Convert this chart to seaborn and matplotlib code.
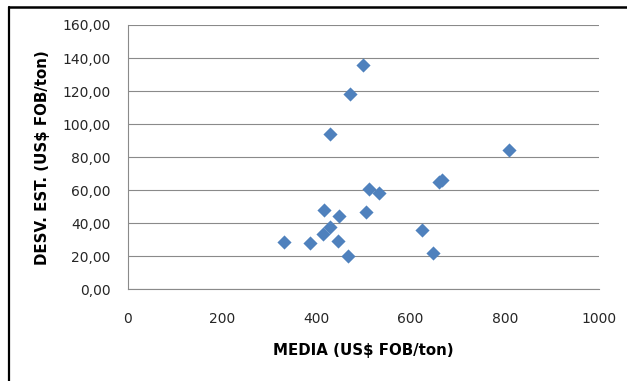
import matplotlib
matplotlib.use("Agg")
import matplotlib.pyplot as plt
from matplotlib.lines import Line2D
import seaborn as sns
import pandas as pd

media = [498, 471, 429, 809, 666, 660, 512, 533, 416, 448, 505, 429, 414, 386, 445, 467, 625, 647, 331]
desv = [135.6, 118.4, 94.0, 84.5, 66.2, 65.0, 60.7, 58.5, 48.2, 44.4, 46.6, 37.7, 33.3, 28.2, 29.2, 20.4, 35.7, 21.8, 28.6]

x_ticks = [0, 200, 400, 600, 800, 1000]
x_tick_labels = ["0", "200", "400", "600", "800", "1000"]
y_ticks = [0, 20, 40, 60, 80, 100, 120, 140, 160]
y_tick_labels = ["0,00", "20,00", "40,00", "60,00", "80,00", "100,00", "120,00", "140,00", "160,00"]

x_label = "MEDIA (US$ FOB/ton)"
y_label = "DESV. EST. (US$ FOB/ton)"

df = pd.DataFrame({"media": media, "desv": desv})

sns.set_style("white")
plt.rcParams['font.family'] = ['DejaVu Sans']

fig = plt.figure(figsize=(6.27, 3.81), dpi=100)
ax = fig.add_axes([128/627, 1-289.3/381, (599-128)/627, (289.3-25)/381])

sns.scatterplot(data=df, x="media", y="desv", ax=ax, marker="D", s=52,
                color="#4F81BD", linewidth=0, zorder=3)

ax.set_xlim(0, 1000)
ax.set_ylim(0, 160)
ax.set_xticks(x_ticks)
ax.set_xticklabels(x_tick_labels)
ax.set_yticks(y_ticks)
ax.set_yticklabels(y_tick_labels)

ax.yaxis.grid(True, color="#8a8a8a", linewidth=0.8)
ax.xaxis.grid(False)
ax.set_axisbelow(True)

for s in ["top", "right"]:
    ax.spines[s].set_visible(False)
for s in ["left", "bottom"]:
    ax.spines[s].set_visible(True)
    ax.spines[s].set_color("#8a8a8a")
    ax.spines[s].set_linewidth(0.8)

ax.tick_params(axis="both", which="major", direction="out", length=4, width=0.8,
               color="#8a8a8a", labelsize=10, labelcolor="#262626")
ax.tick_params(axis="y", pad=8.5)
ax.tick_params(axis="x", pad=12)

ax.set_xlabel(x_label, fontsize=10.8, fontweight="bold", color="black")
ax.set_ylabel(y_label, fontsize=10.8, fontweight="bold", color="black")
ax.xaxis.set_label_coords(0.5, -0.203)
ax.yaxis.set_label_coords(-0.1656, 0.5)

# outer chart frame (partially cropped)
fig.add_artist(Line2D([9/627, 9/627], [0, 1-7/381], transform=fig.transFigure,
                      color="black", linewidth=1.6))
fig.add_artist(Line2D([9/627, 1], [1-7/381, 1-7/381], transform=fig.transFigure,
                      color="black", linewidth=1.8))

fig.savefig("out.png", dpi=100, facecolor="white")
